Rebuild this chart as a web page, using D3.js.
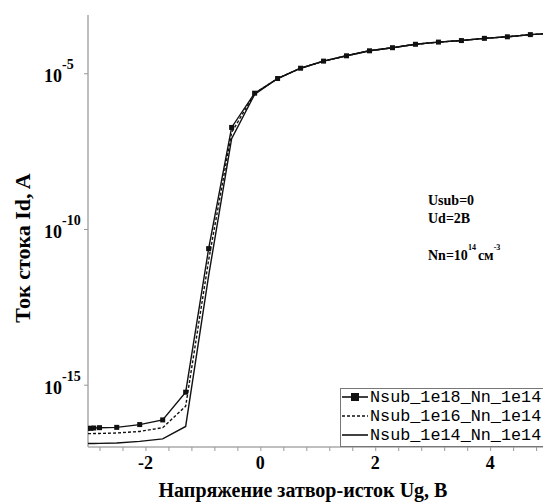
<!DOCTYPE html>
<html>
<head>
<meta charset="utf-8">
<script src="https://cdn.jsdelivr.net/npm/d3@7"></script>
<style>
  body { margin: 0; background: #fff; }
  text { font-family: "Liberation Serif", "Times New Roman", serif; }
</style>
</head>
<body>
<div id="chart"></div>
<script>
// gate voltage points, V
var ug = [-3, -2.95, -2.9, -2.8, -2.5, -2.1, -1.7, -1.3, -0.9, -0.5, -0.1, 0.3, 0.7, 1.1, 1.5, 1.9, 2.3, 2.7, 3.1, 3.5, 3.9, 4.3, 4.7, 5.1];

// drain current, A
var idNsub18 = [3.98e-17, 3.98e-17, 4.07e-17, 4.17e-17, 4.27e-17, 5.25e-17, 7.41e-17, 5.75e-16, 2.34e-11, 1.82e-7, 2.29e-6,
  6.76e-6, 1.45e-5, 2.45e-5, 3.63e-5, 5.25e-5, 6.61e-5, 8.51e-5, 1.0e-4, 1.12e-4, 1.32e-4, 1.48e-4, 1.74e-4, 1.91e-4];
var idNsub16 = [2.69e-17, 2.69e-17, 2.7e-17, 2.72e-17, 2.82e-17, 3.16e-17, 4.17e-17, 2.04e-16, 1.0e-11, 1.26e-7, 2.24e-6,
  6.76e-6, 1.45e-5, 2.45e-5, 3.63e-5, 5.25e-5, 6.61e-5, 8.51e-5, 1.0e-4, 1.12e-4, 1.32e-4, 1.48e-4, 1.74e-4, 1.91e-4];
var idNsub14 = [1.29e-17, 1.29e-17, 1.3e-17, 1.31e-17, 1.35e-17, 1.51e-17, 1.82e-17, 4.57e-17, 3.16e-12, 7.94e-8, 2.09e-6,
  6.76e-6, 1.45e-5, 2.45e-5, 3.63e-5, 5.25e-5, 6.61e-5, 8.51e-5, 1.0e-4, 1.12e-4, 1.32e-4, 1.48e-4, 1.74e-4, 1.91e-4];

var seriesNames = ["Nsub_1e18_Nn_1e14", "Nsub_1e16_Nn_1e14", "Nsub_1e14_Nn_1e14"];
var xTickLabels = [-2, 0, 2, 4];
var yTickExp = [-5, -10, -15];

var W = 543, H = 502;
var margin = {top: 15, right: 0, bottom: 55, left: 88},
  width = W - margin.left - margin.right,
  height = H - margin.top - margin.bottom;

var svg = d3.select("#chart").append("svg")
  .attr("width", W)
  .attr("height", H);

var g = svg.append("g")
  .attr("transform", "translate(" + margin.left + "," + margin.top + ")");

var x = d3.scaleLinear().domain([-3, 4.92]).range([0, width]);
var y = d3.scaleLog().domain([1e-17, Math.pow(10, -3.13)]).range([height, 0]);

svg.append("clipPath").attr("id", "clip")
  .append("rect").attr("x", 0).attr("y", -5).attr("width", width).attr("height", height + 5);

// axes
var xTicks = d3.range(-2.8, 4.9, 0.4).map(function(v) { return Math.round(v * 10) / 10; });
var xAxis = g.append("g")
  .attr("transform", "translate(0," + height + ")")
  .call(d3.axisBottom(x).tickValues(xTicks).tickSize(4).tickFormat(""));
xAxis.selectAll("line").attr("stroke", "#999");
xAxis.select(".domain").attr("stroke", "#aaa").attr("stroke-width", 1.5).attr("d", "M0,0H" + width);

var yAxis = g.append("g")
  .call(d3.axisLeft(y).tickValues(yTickExp.map(function(e) { return Math.pow(10, e); })).tickSize(4).tickFormat(""));
yAxis.selectAll("line").attr("stroke", "#999");
yAxis.select(".domain").attr("stroke", "#aaa").attr("stroke-width", 1.5).attr("d", "M0,0V" + height);

// x tick labels
g.selectAll(".xlab").data(xTickLabels).enter().append("text")
  .attr("x", function(d) { return x(d); })
  .attr("y", height + 22)
  .attr("text-anchor", "middle")
  .style("font-size", "18px").style("font-weight", "bold")
  .text(function(d) { return d < 0 ? "-" + Math.abs(d) : d; });

// y tick labels 10^e
var ylab = g.selectAll(".ylab").data(yTickExp).enter().append("text")
  .attr("x", -26)
  .attr("y", function(d) { return y(Math.pow(10, d)) + 9; })
  .attr("text-anchor", "end")
  .style("font-weight", "bold");
ylab.append("tspan").style("font-size", "18px").text("10");
ylab.append("tspan").attr("dy", -13).style("font-size", "14px")
  .attr("x", -26).attr("text-anchor", "start")
  .text(function(d) { return d; });

// axis titles
svg.append("text")
  .attr("x", 303).attr("y", 497)
  .attr("text-anchor", "middle")
  .style("font-size", "20px").style("font-weight", "bold")
  .text("Напряжение затвор-исток Ug, B");

svg.append("text")
  .attr("transform", "translate(30,248) rotate(-90)")
  .attr("text-anchor", "middle")
  .style("font-size", "22px").style("font-weight", "bold")
  .text("Ток стока Id, A");

// curves
var data = [idNsub18, idNsub16, idNsub14];
var dashes = [null, "3,2", null];
var line = d3.line()
  .x(function(d, i) { return x(ug[i]); })
  .y(function(d) { return y(d); });

var plot = g.append("g").attr("clip-path", "url(#clip)");
plot.selectAll(".curve").data(data).enter().append("path")
  .attr("d", line)
  .attr("fill", "none")
  .attr("stroke", "#111")
  .attr("stroke-width", 1.4)
  .attr("stroke-dasharray", function(d, i) { return dashes[i]; });

plot.selectAll(".mk").data(idNsub18).enter().append("rect")
  .attr("x", function(d, i) { return x(ug[i]) - 2.5; })
  .attr("y", function(d) { return y(d) - 2.5; })
  .attr("width", 5).attr("height", 5)
  .attr("fill", "#111");

// annotation
var ann = svg.append("g").style("font-weight", "bold");
ann.append("text").attr("x", 428).attr("y", 205).style("font-size", "14px").text("Usub=0");
ann.append("text").attr("x", 428).attr("y", 223).style("font-size", "14px").text("Ud=2B");
var nn = ann.append("text").attr("x", 428).attr("y", 260).style("font-size", "14px");
nn.append("tspan").text("Nn=10");
nn.append("tspan").attr("dy", -10).style("font-size", "8px").text("14");
nn.append("tspan").attr("dy", 10).attr("dx", 2).text("см");
nn.append("tspan").attr("dy", -10).style("font-size", "8px").text("-3");

// legend
var leg = svg.append("g");
leg.append("rect")
  .attr("x", 340.5).attr("y", 388.5).attr("width", 210).attr("height", 58)
  .attr("fill", "#fff").attr("stroke", "#777").attr("stroke-width", 1);
var rowsY = [397, 416, 435];
seriesNames.forEach(function(name, i) {
  leg.append("line")
    .attr("x1", 342).attr("x2", 368)
    .attr("y1", rowsY[i]).attr("y2", rowsY[i])
    .attr("stroke", "#111").attr("stroke-width", 1.6)
    .attr("stroke-dasharray", dashes[i]);
  if (i === 0) {
    leg.append("rect").attr("x", 351).attr("y", rowsY[i] - 4).attr("width", 8).attr("height", 8).attr("fill", "#111");
  }
  leg.append("text")
    .attr("x", 370).attr("y", rowsY[i] + 5)
    .style("font-family", "'Liberation Mono', 'Courier New', monospace")
    .style("font-size", "16.8px")
    .text(name);
});
</script>
</body>
</html>
